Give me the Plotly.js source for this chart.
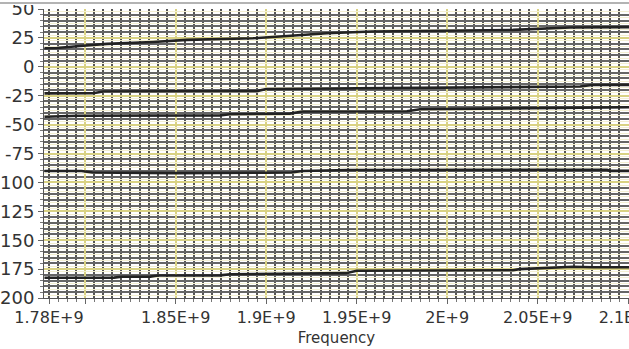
<!DOCTYPE html>
<html>
<head>
<meta charset="utf-8">
<script src="https://cdn.plot.ly/plotly-3.0.1.min.js"></script>
<style>html,body{margin:0;padding:0;background:#fff;}#chart{width:629px;height:349px;}</style>
</head>
<body>
<div id="chart"></div>
<script>
// Frequency (Hz) break points and phase values
const freq1 = [1.7775e9, 1.7844e9, 1.7971e9, 1.8120e9, 1.8375e9, 1.8562e9, 1.8927e9, 1.9148e9, 1.9336e9, 1.9585e9, 2.0364e9, 2.0679e9, 2.1005e9];
const phase1 = [16.0, 16.2, 18.0, 19.8, 21.5, 23.3, 24.7, 26.7, 29.0, 30.5, 31.9, 34.0, 34.3];

const freq2 = [1.7775e9, 1.8043e9, 1.8100e9, 1.8949e9, 1.9000e9, 1.9446e9, 2.0734e9, 2.0800e9, 2.1005e9];
const phase2 = [-23.0, -22.9, -21.4, -21.0, -19.2, -18.5, -17.1, -15.8, -15.6];

const freq3 = [1.7775e9, 1.7960e9, 1.8745e9, 1.8800e9, 1.9132e9, 1.9200e9, 1.9778e9, 1.9850e9, 2.1005e9];
const phase3 = [-43.2, -42.3, -42.0, -41.0, -40.5, -38.7, -38.5, -36.7, -35.0];

const freq4 = [1.7775e9, 1.7980e9, 1.8040e9, 1.8500e9, 1.9000e9, 1.9140e9, 1.9200e9, 1.9450e9, 2.0237e9, 2.0883e9, 2.0900e9, 2.1005e9];
const phase4 = [-90.1, -90.1, -91.5, -92.0, -91.6, -91.4, -90.1, -89.3, -89.2, -89.2, -90.0, -90.0];

const freq5 = [1.7775e9, 1.8160e9, 1.8200e9, 1.8360e9, 1.8400e9, 1.8745e9, 1.8800e9, 1.9440e9, 1.9500e9, 2.0364e9, 2.0400e9, 2.0695e9, 2.0806e9, 2.1005e9];
const phase5 = [-182.5, -182.4, -181.6, -181.5, -180.6, -180.4, -179.5, -178.5, -176.4, -176.0, -175.0, -173.0, -173.4, -173.4];

// Tick labels
const xTickVals = [1.80e9, 1.85e9, 1.90e9, 1.95e9, 2.00e9, 2.05e9, 2.10e9];
const xTickText = ['', '1.85E+9', '1.9E+9', '1.95E+9', '2E+9', '2.05E+9', '2.1E+9'];
const xFirstVal = [1.78e9];
const xFirstText = ['1.78E+9'];
const yTickVals = [-200, -175, -150, -125, -100, -75, -50, -25, 0, 25, 50];
const yTickText = ['200', '175', '150', '125', '100', '-75', '-50', '-25', '0', '25', '50'];
const xTitle = 'Frequency';

const series = [[freq1, phase1], [freq2, phase2], [freq3, phase3], [freq4, phase4], [freq5, phase5]];

const lineStyle = {color: '#222222', width: 2.6};
const traces = series.map(s => ({
  x: s[0], y: s[1], type: 'scatter', mode: 'lines',
  line: lineStyle, hoverinfo: 'skip', showlegend: false
}));
// helper traces that only bring the overlay axes into existence
traces.push({x: [xFirstVal[0]], y: [0], xaxis: 'x2', yaxis: 'y', mode: 'markers', marker: {opacity: 0}, hoverinfo: 'skip', showlegend: false});
traces.push({x: [xFirstVal[0]], y: [0], xaxis: 'x', yaxis: 'y2', mode: 'markers', marker: {opacity: 0}, hoverinfo: 'skip', showlegend: false});

const xr = [1.77724e9, 2.10044e9];
const yr = [-200, 50];
const vBlack = '#555555';
const hBlack = '#666666';
const yellow = '#d9d283';
const paleYellow = '#f3efd2';
const fontFam = 'DejaVu Sans, Verdana, sans-serif';

const layout = {
  width: 629, height: 349,
  margin: {l: 44, r: 0, t: 9, b: 51},
  paper_bgcolor: '#ffffff', plot_bgcolor: '#ffffff',
  font: {family: fontFam, color: '#333'},
  xaxis: {
    range: xr, tickmode: 'array', tickvals: xTickVals, ticktext: xTickText,
    showgrid: true, gridcolor: yellow, gridwidth: 2,
    ticks: 'outside', ticklen: 5, tickcolor: '#666', tickwidth: 1,
    tickfont: {size: 16, family: fontFam, color: '#333'},
    ticklabeloverflow: 'allow',
    showline: true, linecolor: '#555', linewidth: 1,
    zeroline: false,
    minor: {tickmode: 'linear', tick0: 1.78e9, dtick: 0.005e9, showgrid: true, gridcolor: vBlack, gridwidth: 2, ticks: 'outside', ticklen: 3, tickcolor: '#777'},
    title: {text: xTitle, font: {size: 15, family: fontFam, color: '#333'}, standoff: 6},
    automargin: false
  },
  xaxis2: {
    overlaying: 'x', anchor: 'y', side: 'bottom', range: xr,
    tickmode: 'array', tickvals: xFirstVal, ticktext: xFirstText,
    showgrid: false, zeroline: false, showline: false,
    ticks: 'outside', ticklen: 5, tickcolor: '#666',
    tickfont: {size: 16, family: fontFam, color: '#333'},
    ticklabeloverflow: 'allow',
    automargin: false
  },
  yaxis: {
    range: yr, tickmode: 'array', tickvals: yTickVals, ticktext: yTickText,
    showgrid: true, gridcolor: yellow, gridwidth: 2,
    ticks: 'outside', ticklen: 5, tickcolor: '#666',
    tickfont: {size: 18, family: fontFam, color: '#333'},
    ticklabeloverflow: 'allow',
    showline: true, linecolor: '#555', linewidth: 1,
    zeroline: false,
    minor: {tickmode: 'linear', tick0: 0, dtick: 5, showgrid: true, gridcolor: hBlack, gridwidth: 2, ticks: 'outside', ticklen: 3, tickcolor: '#777'},
    automargin: false
  },
  yaxis2: {
    overlaying: 'y', anchor: 'x', side: 'left', range: yr,
    tickmode: 'linear', tick0: 2.5, dtick: 5,
    showgrid: true, gridcolor: paleYellow, gridwidth: 1,
    showticklabels: false, ticks: '', zeroline: false, showline: false,
    automargin: false
  },
  shapes: [
    {type: 'rect', xref: 'paper', yref: 'paper', x0: -0.2, x1: 1.1, y0: 1 + 4 / 289, y1: 1 + 12 / 289, fillcolor: '#ffffff', line: {width: 0}, layer: 'above'},
    {type: 'line', xref: 'paper', yref: 'paper', x0: -0.2, x1: 1.1, y0: 1 + 6 / 289, y1: 1 + 6 / 289, line: {color: '#9a9a9a', width: 1.5}, layer: 'above'}
  ]
};

Plotly.newPlot('chart', traces, layout, {displayModeBar: false, staticPlot: true});
</script>
</body>
</html>
